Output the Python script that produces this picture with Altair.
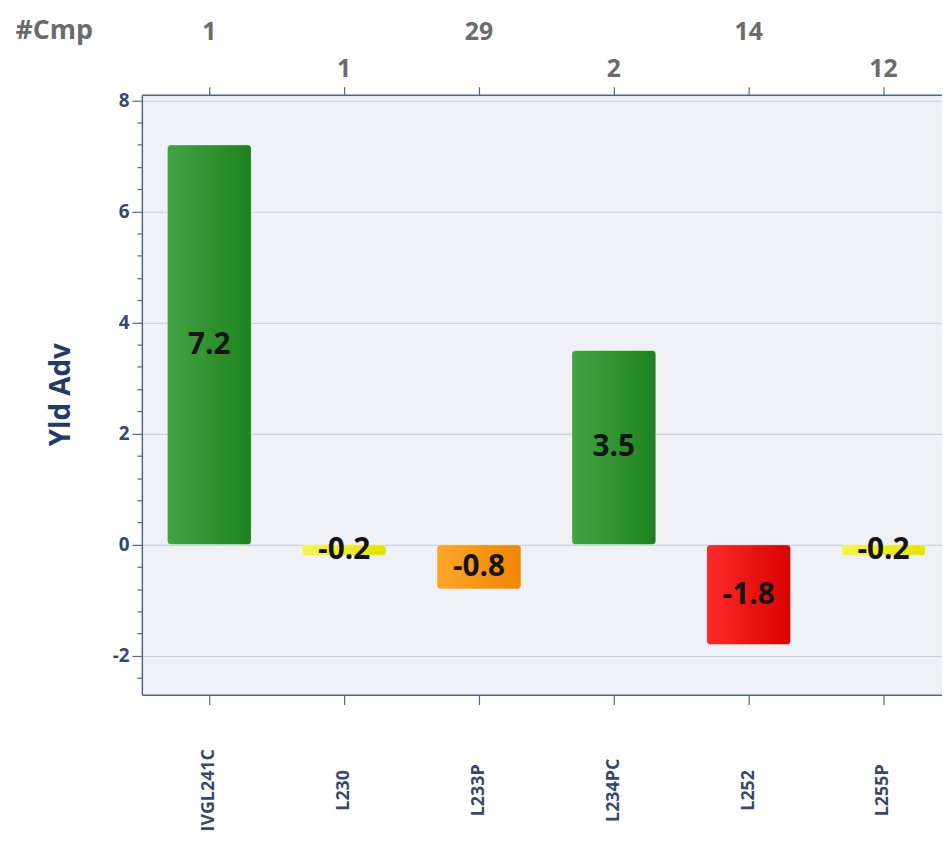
import altair as alt
import pandas as pd

categories = ["IVGL241C", "L230", "L233P", "L234PC", "L252", "L255P"]
yld_adv = [7.2, -0.2, -0.8, 3.5, -1.8, -0.2]
cmp_counts = [1, 1, 29, 2, 14, 12]
y_major_ticks = [-2, 0, 2, 4, 6, 8]
y_minor_ticks = [-2.4, -1.6, -1.2, -0.8, -0.4, 0.4, 0.8, 1.2, 1.6,
                 2.4, 2.8, 3.2, 3.6, 4.4, 4.8, 5.2, 5.6, 6.4, 6.8, 7.2, 7.6]

df = pd.DataFrame({
    "cat": categories,
    "val": yld_adv,
    "cmp": cmp_counts,
    "idx": list(range(len(categories))),
})

FONT = "Open Sans"
NAVY = "#34496b"
AXIS_LINE = "#52688a"

x_scale = alt.Scale(domain=categories, range=[0, 816],
                    paddingInner=0.375, paddingOuter=0.1875)
y_scale = alt.Scale(domain=[-2.7, 8.1], nice=False, zero=False)

x_none = alt.X("cat:N", scale=x_scale, axis=None)
y_none = alt.Y("val:Q", scale=y_scale, axis=None)

x_bottom = alt.X(
    "cat:N", scale=x_scale, title=None,
    axis=alt.Axis(
        orient="bottom", labelAngle=-90, labelAlign="center",
        labelBaseline="middle", labelPadding=86, tickSize=10,
        labelFont=FONT, labelFontSize=18, labelFontWeight="bold",
        labelColor=NAVY, domainColor=AXIS_LINE, domainWidth=1.5,
        tickColor=AXIS_LINE, tickWidth=1.2, grid=False, labelOverlap=False,
    ),
)

y_major = alt.Y(
    "val:Q", scale=y_scale, title="Yld Adv",
    axis=alt.Axis(
        orient="left",
        values=y_major_ticks,
        labelExpr="'' + datum.value",
        tickSize=10,
        grid=True, gridColor="#c9d1dd", gridWidth=1.2,
        labelFont=FONT, labelFontSize=19, labelFontWeight="bold",
        labelColor=NAVY, labelPadding=3, labelOverlap=False,
        domainColor=AXIS_LINE, domainWidth=1.5, tickColor=AXIS_LINE,
        tickWidth=1.2,
        titleX=-81, titleY=302, titleAngle=-90, titleAlign="center",
        titleBaseline="middle", titleFont=FONT, titleFontSize=28,
        titleFontWeight="bold", titleColor="#1f3b66",
    ),
)

y_minor = alt.Y(
    "val:Q", scale=y_scale, title=None,
    axis=alt.Axis(
        orient="left", values=y_minor_ticks, labels=False, tickSize=5,
        grid=False, domain=False, tickColor=AXIS_LINE, tickWidth=1.2,
    ),
)

base = alt.Chart(df).transform_calculate(
    cls="datum.val >= 0 ? 'green' : datum.val > -0.5 ? 'yellow' : "
        "datum.val > -1.5 ? 'orange' : 'red'",
    mid="datum.val / 2",
    lbl="'' + datum.val",
)


def grad(c1, c2):
    return alt.LinearGradient(
        gradient="linear", x1=0, x2=1, y1=0, y2=0,
        stops=[alt.GradientStop(offset=0, color=c1),
               alt.GradientStop(offset=1, color=c2)],
    )


colors = {
    "green": ("#43a443", "#1d821d"),
    "yellow": ("#f6f64a", "#e4e400"),
    "orange": ("#ffa62a", "#ef8600"),
    "red": ("#ff2b2b", "#d90000"),
}

layers = []
for i, (cls, (c1, c2)) in enumerate(colors.items()):
    if i == 0:
        xe, ye = x_bottom, y_major
    elif i == 1:
        xe, ye = x_none, y_minor
    else:
        xe, ye = x_none, y_none
    layer = base.transform_filter(f"datum.cls == '{cls}'").mark_bar(
        color=grad(c1, c2), cornerRadius=4,
        stroke="#ffffff", strokeOpacity=0.35, strokeWidth=1,
    ).encode(x=xe, y=ye)
    layers.append(layer)

value_labels = base.mark_text(
    font=FONT, fontSize=30, fontWeight="bold", color="#141414",
    align="center", baseline="middle",
).encode(
    x=x_none,
    y=alt.Y("mid:Q", scale=y_scale, axis=None),
    text="lbl:N",
)
layers.append(value_labels)

x_top = alt.X(
    "cat:N", scale=x_scale, title="#Cmp",
    axis=alt.Axis(
        orient="top", labels=False, tickSize=8, grid=False,
        domainColor=AXIS_LINE, domainWidth=1.5, tickColor=AXIS_LINE,
        tickWidth=1.2,
        titleX=-128, titleY=-65, titleAngle=0, titleAlign="left",
        titleBaseline="middle", titleFont=FONT, titleFontSize=27,
        titleFontWeight="bold", titleColor="#6b6b6b",
    ),
)

count_style = dict(font=FONT, fontSize=25, fontWeight="bold",
                   color="#6b6b6b", align="center", baseline="middle")

counts_even = base.transform_filter("datum.idx % 2 == 0").mark_text(
    **count_style
).encode(x=x_top, y=alt.value(-63), text="cmp:Q")

counts_odd = base.transform_filter("datum.idx % 2 == 1").mark_text(
    **count_style
).encode(x=x_none, y=alt.value(-26), text="cmp:Q")

layers += [counts_even, counts_odd]

chart = alt.layer(*layers).resolve_axis(
    x="independent", y="independent"
).properties(
    width=807, height=605,
    autosize=alt.AutoSizeParams(type="none"),
    padding={"left": 135, "top": 84, "right": 0, "bottom": 134},
).configure_view(fill="#eff1f6", strokeWidth=0)

chart.save("out.html", embed_options={"renderer": "svg", "actions": False})
